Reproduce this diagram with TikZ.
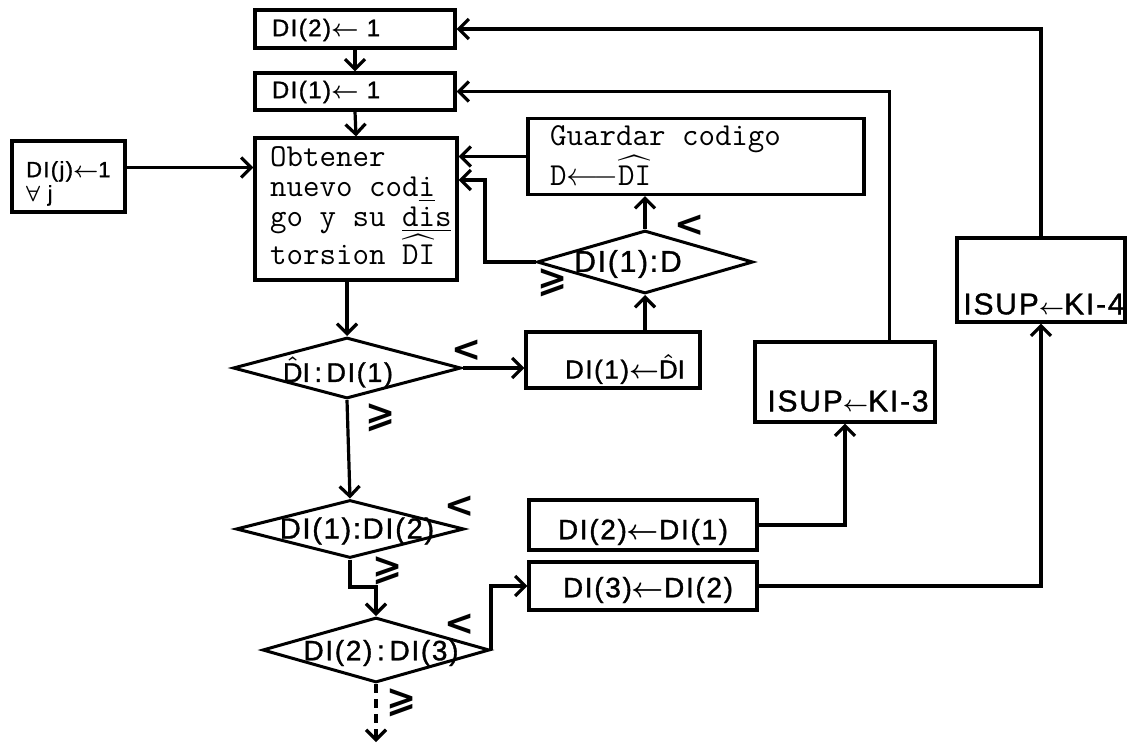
\RequirePackage{fix-cm}
\documentclass[tikz,border=0pt]{standalone}
\usepackage{amsmath,amssymb}
\usepackage{fontspec}
\newfontfamily\handfont[LetterSpace=6,FakeBold=1.2]{Liberation Sans}
\newfontfamily\symfont{DejaVu Sans}
\usetikzlibrary{shapes.geometric,arrows.meta,calc}
\tikzset{
  box/.style={draw, line width=3.2pt, rectangle, inner sep=0pt},
  dia/.style={draw, line width=3pt, diamond, inner sep=0pt},
  conn/.style={line width=3.2pt},
  arr/.style={conn, -{Straight Barb[length=10pt,width=20pt]}},
  hand/.style={font=\handfont\fontsize{#1}{#1}\selectfont\boldmath, inner sep=0pt},
  type/.style={font=\ttfamily\fontsize{32}{30}\selectfont\addfontfeature{FakeBold=2}, inner sep=0pt, align=left},
  cmp/.style={font=\symfont\bfseries\fontsize{36}{36}\selectfont, inner sep=0pt},
}
\begin{document}
\begin{tikzpicture}[x=1pt,y=-1pt]
\useasboundingbox (0,0) rectangle (1127,744);

% boxes
\node[box, minimum width=200pt, minimum height=38pt] (A) at (355,29) {};
\node[box, minimum width=200pt, minimum height=37pt] (B) at (355,91.5) {};
\node[box, minimum width=202pt, minimum height=142pt] (C) at (356,209) {};
\node[box, minimum width=113pt, minimum height=71pt] (J) at (68.5,176.5) {};
\node[box, minimum width=336pt, minimum height=76pt] (G) at (696,156.5) {};
\node[box, minimum width=174pt, minimum height=56pt] (F) at (613,360) {};
\node[box, minimum width=228pt, minimum height=50pt] (H) at (643,525) {};
\node[box, minimum width=228pt, minimum height=48pt] (K) at (643,586) {};
\node[box, minimum width=180pt, minimum height=80pt] (I3) at (845,382) {};
\node[box, minimum width=168pt, minimum height=84pt] (I4) at (1041,280) {};

% diamonds
\node[dia, minimum width=216pt, minimum height=63pt] (E) at (645,262) {};
\node[dia, minimum width=228pt, minimum height=61pt] (D1) at (347,368) {};
\node[dia, minimum width=228pt, minimum height=58pt] (D2) at (350,529) {};
\node[dia, minimum width=227pt, minimum height=65pt] (D3) at (376,650) {};

% texts
\node[hand=24] (At) at (326,30) {DI(2)$\leftarrow$\ 1};
\node[hand=24] (Bt) at (326,92) {DI(1)$\leftarrow$\ 1};
\node[anchor=north west, align=left, inner sep=0pt, font=\handfont\fontsize{22}{24}\selectfont\boldmath] (Jt) at (26,161) {DI(j)$\leftarrow$1\\$\forall$\ j};
\node[type, anchor=north west] (Ct) at (270,146) {Obtener\\nuevo cod\underline{i}\\go y su \underline{dis}\\torsion $\widehat{\text{DI}}$};
\node[type, anchor=north west] (Gt) at (550,125) {Guardar codigo\\[2pt]D$\longleftarrow$$\widehat{\text{DI}}$};
\node[hand=30] (Et) at (628,264) {DI(1):D};
\node[hand=27] (D1t) at (338,372) {$\hat{\text{D}}$I\,:\,DI(1)};
\node[hand=26] (Ft) at (625,369) {DI(1)$\leftarrow$$\hat{\text{D}}$I};
\node[hand=29] (D2t) at (357,531) {DI(1):DI(2)};
\node[hand=28] (Ht) at (643,532) {DI(2)$\leftarrow$DI(1)};
\node[hand=28] (Kt) at (648,590) {DI(3)$\leftarrow$DI(2)};
\node[hand=28] (D3t) at (381,653) {DI(2)\,:\,DI(3)};
\node[hand=30] (I3t) at (848,401) {ISUP{\fontsize{22}{22}\selectfont$\leftarrow$}KI-3};
\node[hand=30] (I4t) at (1044,304) {ISUP{\fontsize{22}{22}\selectfont$\leftarrow$}KI-4};

% connectors
\draw[arr] (A.south) -- (B.north);
\draw[arr] (B.south) -- (C.north);
\coordinate (jo) at ($(J.east)+(0,-9)$);
\draw[arr] (jo) -- (jo -| C.west);
\draw[arr] (G.west) -- (G.west -| C.east);
\coordinate (eb) at (485,180);
\draw[arr] (E.west) -| (eb) -- (eb -| C.east);
\draw[arr] (E.north) -- (E.north |- G.south);
\draw[arr] (D1.north |- C.south) -- (D1.north);
\draw[arr] (D1.east) -- (D1.east -| F.west);
\draw[arr] (F.north -| E.south) -- (E.south);
\draw[arr] (D1.south) -- (D2.north);
\coordinate (dj) at (352,587);
\draw[arr] (D2.south) -- (D2.south |- dj) -| (D3.north);
\draw[arr] (D3.east) |- (K.west);
\coordinate (fin) at (376,742);
\draw[arr, dash pattern=on 9pt off 6pt] (D3.south) -- (fin);
\draw[arr] (H.east) -| (I3.south);
\draw[arr] (K.east) -| (I4.south);
\draw[arr] ($(I3.north east)+(-47,0)$) |- (B.east);
\draw[arr] (I4.north) |- (A.east);

% branch labels
\node[cmp] (l1) at (690,226) {<};
\node[cmp] (g1) at (553,283) {⩾};
\node[cmp] (l2) at (467,351) {<};
\node[cmp] (g2) at (381,418) {⩾};
\node[cmp] (l3) at (460,507) {<};
\node[cmp] (g3) at (388,571) {⩾};
\node[cmp] (l4) at (460,625) {<};
\node[cmp] (g4) at (402,703) {⩾};
\end{tikzpicture}
\end{document}
